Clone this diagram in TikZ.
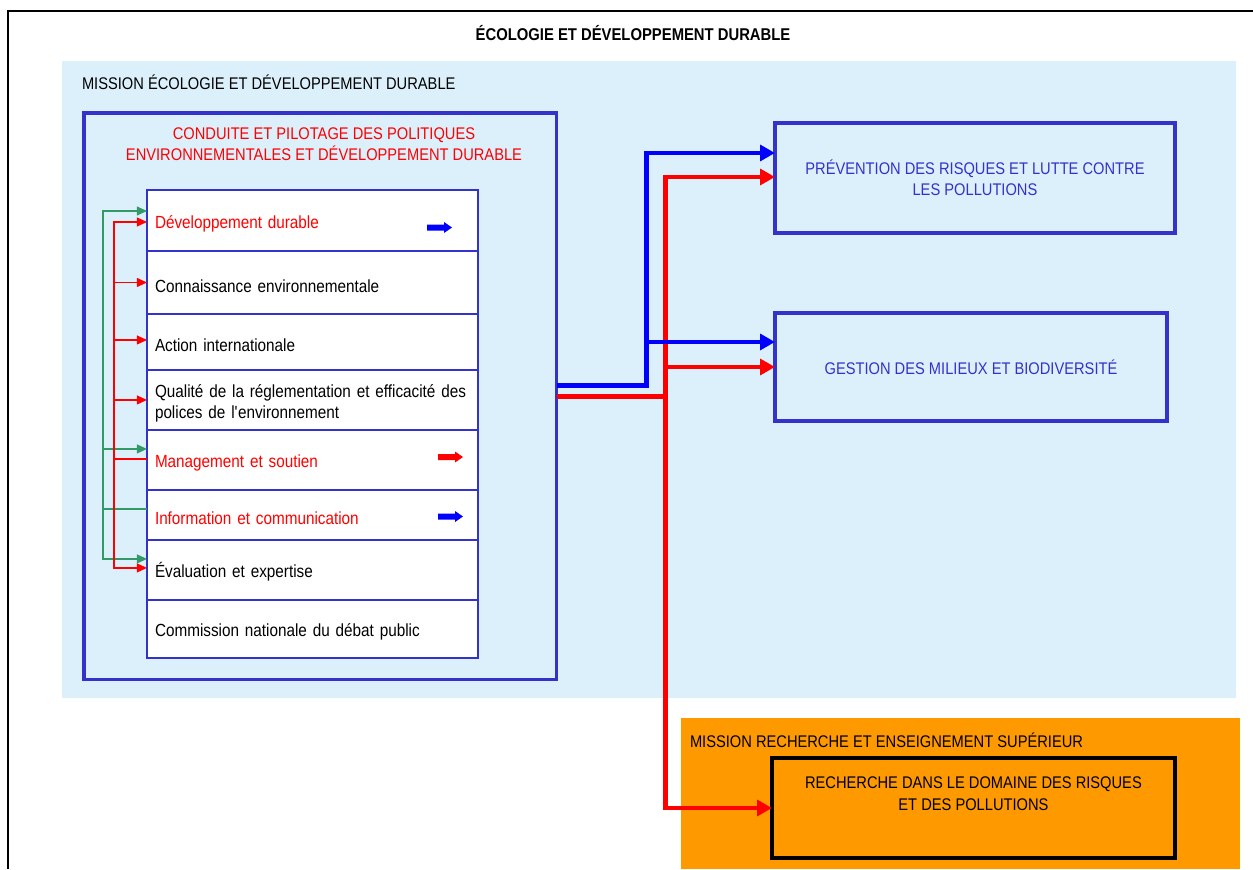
\documentclass[tikz,border=0pt]{standalone}
\usepackage{fontspec}
\setmainfont[FakeStretch=0.87]{Liberation Sans}
\usetikzlibrary{calc,arrows.meta}
\definecolor{bgblue}{RGB}{220,240,252}
\definecolor{dblue}{RGB}{51,51,204}
\definecolor{sgreen}{RGB}{51,153,102}
\definecolor{orng}{RGB}{255,153,0}
\newcommand{\myblockarrow}[2]{%
  \fill[#1] ($(#2)+(-12.5,-3)$) -- ($(#2)+(4.5,-3)$) -- ($(#2)+(4.5,-5.5)$) -- ($(#2)+(12.5,0)$)
    -- ($(#2)+(4.5,5.5)$) -- ($(#2)+(4.5,3)$) -- ($(#2)+(-12.5,3)$) -- cycle;}
\begin{document}
\begin{tikzpicture}[x=0.02cm,y=-0.02cm,
  every node/.style={font=\fontsize{10}{12.2}\selectfont, outer sep=0pt},
  capstxt/.style={font=\fontsize{9.6}{12.2}\selectfont},
  rowbox/.style={draw=dblue, line width=0.7pt, fill=white, anchor=north west,
    minimum width=6.62cm, text width=6.3cm, inner xsep=0.16cm, inner ysep=0pt, align=left,
    text height=11pt},
  bigbox/.style={draw=dblue, line width=1.8pt, anchor=north west, inner sep=0pt},
  bluetxt/.style={capstxt, text=dblue, align=center},
  gthin/.style={draw=sgreen, line width=0.85pt, -{Triangle[length=5.7pt,width=5pt]}},
  rthin/.style={draw=red, line width=0.85pt, -{Triangle[length=5.7pt,width=5pt]}},
  rthinnt/.style={draw=red, line width=0.85pt},
  bthick/.style={draw=blue, line width=2.8pt, -{Triangle[length=8.5pt,width=9pt]}},
  rthick/.style={draw=red, line width=2.8pt, -{Triangle[length=8.5pt,width=9pt]}}
]
\useasboundingbox (0,0) rectangle (1253,869);
% outer frame
\draw[line width=1.2pt] (8,869) -- (8,11) -- (1253,11);
\node[font=\bfseries\fontsize{9.7}{12}\selectfont] (title) at (633,33) {ÉCOLOGIE ET DÉVELOPPEMENT DURABLE};
% light blue mission area
\fill[bgblue] (62,61) rectangle (1236,698);
\node[capstxt, anchor=west, inner sep=0pt] (mission) at (82,82) {MISSION ÉCOLOGIE ET DÉVELOPPEMENT DURABLE};
% orange mission area
\fill[orng] (681,718) rectangle (1240,869);
\node[capstxt, anchor=west, inner sep=0pt] (mission2) at (690,740) {MISSION RECHERCHE ET ENSEIGNEMENT SUPÉRIEUR};
% big programme box
\node[bigbox, minimum width=9.46cm, minimum height=11.34cm] (cpd) at (84,113) {};
\node[capstxt, text=red, align=center] (cpdT) at (324,144) {CONDUITE ET PILOTAGE DES POLITIQUES\\ENVIRONNEMENTALES ET DÉVELOPPEMENT DURABLE};
% rows
\node[rowbox, minimum height=1.22cm, text=red] (dev) at (147,190) {Développement durable};
\node[rowbox, minimum height=1.26cm] (conn) at (dev.south west) {Connaissance environnementale};
\node[rowbox, minimum height=1.12cm] (act) at (conn.south west) {Action internationale};
\node[rowbox, minimum height=1.20cm] (qual) at (act.south west) {Qualité de la réglementation et efficacité des polices de l\textquotesingle environnement};
\node[rowbox, minimum height=1.20cm, text=red] (mgmt) at (qual.south west) {Management et soutien};
\node[rowbox, minimum height=1.00cm, text=red] (info) at (mgmt.south west) {Information et communication};
\node[rowbox, minimum height=1.20cm] (eval) at (info.south west) {Évaluation et expertise};
\node[rowbox, minimum height=1.16cm] (cndp) at (eval.south west) {Commission nationale du débat public};
% small block arrows
\coordinate (sa1) at (439.5,227.5);
\coordinate (sa2) at (450.5,457);
\coordinate (sa3) at (450.5,516.5);
\myblockarrow{blue}{sa1}
\myblockarrow{red}{sa2}
\myblockarrow{blue}{sa3}
% green links from Information et communication
\draw[gthin] ($(info.west)+(0,-6)$) -- ++(-44,0) |- ($(dev.west)+(0,-9.5)$);
\draw[gthin] ($(info.west)+(-44,-6)$) |- ($(mgmt.west)+(0,-11)$);
\draw[gthin] ($(info.west)+(-44,-6)$) |- ($(eval.west)+(0,-11)$);
% red links from Management et soutien
\draw[rthinnt] ($(mgmt.west)+(0,-1)$) -- ++(-33,0);
\draw[rthin] ($(mgmt.west)+(-33,-1)$) |- ($(dev.west)+(0,1.5)$);
\draw[rthin] ($(mgmt.west)+(-33,-1)$) |- (conn.west);
\draw[rthin] ($(mgmt.west)+(-33,-1)$) |- ($(act.west)+(0,-2)$);
\draw[rthin] ($(mgmt.west)+(-33,-1)$) |- (qual.west);
\draw[rthin] ($(mgmt.west)+(-33,-1)$) |- ($(eval.west)+(0,-2)$);
% right boxes
\node[bigbox, minimum width=8cm, minimum height=2.2cm] (prev) at (775,123) {};
\node[bluetxt] (prevT) at (prev.center) {PRÉVENTION DES RISQUES ET LUTTE CONTRE\\LES POLLUTIONS};
\node[bigbox, minimum width=7.84cm, minimum height=2.16cm] (gest) at (775,313) {};
\node[bluetxt] (gestT) at (gest.center) {GESTION DES MILIEUX ET BIODIVERSITÉ};
\node[bigbox, draw=black, minimum width=8.06cm, minimum height=2cm] (rech) at (772,758) {};
\node[capstxt, align=center, anchor=north] (rechT) at ($(rech.north)+(0,13)$) {RECHERCHE DANS LE DOMAINE DES RISQUES\\ET DES POLLUTIONS};
% thick connectors
\draw[rthick] (cpd.east) -- ++(109,0) |- ($(prev.west)+(0,-1)$);
\draw[rthick] ($(cpd.east)+(109,0)$) |- (gest.west);
\draw[rthick] ($(cpd.east)+(109,0)$) |- (rech.west);
\draw[bthick] ($(cpd.east)+(0,-10.5)$) -- ++(90,0) |- ($(prev.west)+(0,-25)$);
\draw[bthick] ($(cpd.east)+(90,-10.5)$) |- ($(gest.west)+(0,-25)$);
\end{tikzpicture}
\end{document}
